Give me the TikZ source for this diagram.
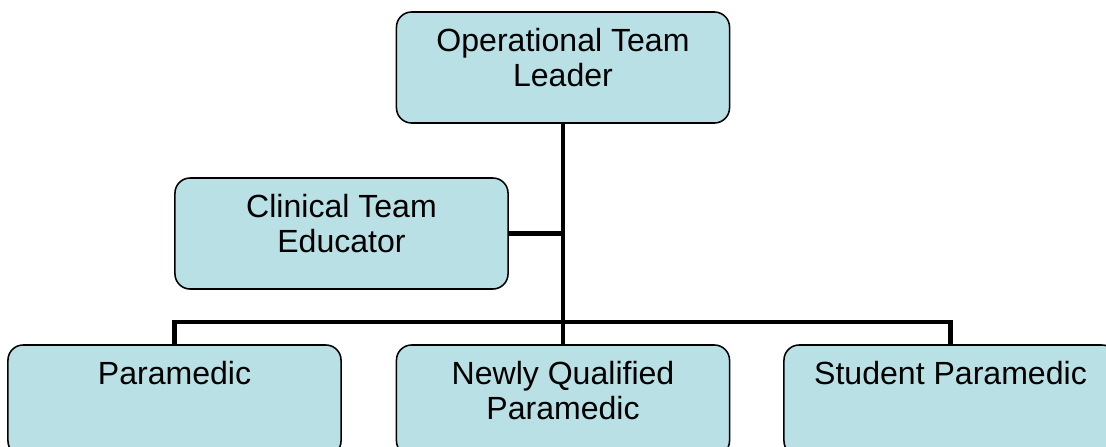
\documentclass[tikz,border=0pt]{standalone}
\usepackage{fontspec}
\setmainfont{Liberation Sans}
\usetikzlibrary{positioning}

\definecolor{boxfill}{RGB}{185,224,228}

\tikzset{
  orgbox/.style={draw=black, line width=1.1pt, fill=boxfill, rounded corners=0.38cm,
                 minimum width=8.325cm, minimum height=2.775cm, inner sep=0pt},
  orgtext/.style={inner sep=0pt, anchor=north, align=center,
                  font=\fontsize{22.8}{24.6}\selectfont},
  conn/.style={line width=3.3pt}
}

\begin{document}
\begin{tikzpicture}[x=0.025cm, y=-0.025cm]
    \useasboundingbox (0,0) rectangle (1106,447);
    \clip (0,0) rectangle (1106,447);
    % boxes
    \node[orgbox] (otl) at (563,67.5) {};
    \node[orgbox] (cte) at (341.5,233.5) {};
    \node[orgbox] (pm)  at (174.5,400.5) {};
    \node[orgbox] (nqp) at (563,400.5) {};
    \node[orgbox] (sp)  at (950.5,400.5) {};
    % texts
    \node[orgtext, below=0.43cm of otl.north] (otltext) {Operational Team\\Leader};
    \node[orgtext, below=0.43cm of cte.north] (ctetext) {Clinical Team\\Educator};
    \node[orgtext, below=0.43cm of pm.north]  (pmtext)  {Paramedic};
    \node[orgtext, below=0.43cm of nqp.north] (nqptext) {Newly Qualified\\Paramedic};
    \node[orgtext, below=0.43cm of sp.north]  (sptext)  {Student Paramedic};
    % lines
    \coordinate (hub) at (563,322);
    \draw[conn] (otl.south) -- (hub);
    \draw[conn] (cte.east) -- (cte.east -| otl.south);
    \draw[conn] (pm.north) |- (hub) -| (sp.north);
    \draw[conn] (hub) -- (nqp.north);
\end{tikzpicture}
\end{document}
